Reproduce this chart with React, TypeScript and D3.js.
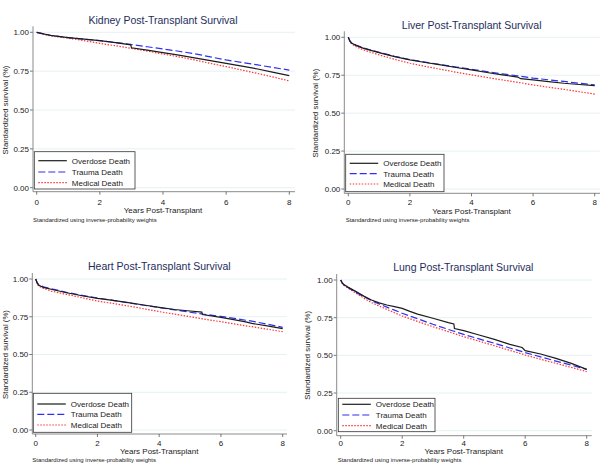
import React from "react";
import * as d3 from "d3";

const SERIES_NAMES = ["Overdose Death", "Trauma Death", "Medical Death"];
const Y_TICKS = [0, 0.25, 0.5, 0.75, 1];
const Y_TICK_LABELS = ["0.00", "0.25", "0.50", "0.75", "1.00"];
const X_TICKS = [0, 2, 4, 6, 8];
const X_TITLE = "Years Post-Transplant";
const Y_TITLE = "Standardized survival (%)";
const NOTE = "Standardized using inverse-probability weights";
const TITLES = [
  "Kidney Post-Transplant Survival",
  "Liver Post-Transplant Survival",
  "Heart Post-Transplant Survival",
  "Lung Post-Transplant Survival",
];

// Kidney
const KIDNEY_T = [0, 0.25, 0.5, 1, 1.5, 2, 2.5, 2.98, 3, 3.5, 4, 4.5, 5, 5.5, 6, 6.5, 7, 7.5, 8];
const KIDNEY_OD = [1.0, 0.988, 0.978, 0.966, 0.956, 0.946, 0.934, 0.919, 0.9, 0.885, 0.869, 0.853, 0.836, 0.818, 0.8, 0.782, 0.764, 0.742, 0.721];
const KIDNEY_TR = [1.0, 0.988, 0.978, 0.966, 0.956, 0.946, 0.934, 0.922, 0.921, 0.907, 0.893, 0.878, 0.862, 0.842, 0.822, 0.806, 0.79, 0.773, 0.757];
const KIDNEY_MD = [1.0, 0.985, 0.975, 0.962, 0.946, 0.929, 0.913, 0.897, 0.896, 0.879, 0.86, 0.842, 0.822, 0.8, 0.779, 0.757, 0.735, 0.712, 0.687];

// Liver
const LIVER_T = [0, 0.05, 0.1, 0.25, 0.5, 1, 1.5, 2, 2.5, 3, 3.5, 4, 4.5, 5, 5.5, 5.6, 6, 6.5, 7, 7.5, 8];
const LIVER_OD = [1.0, 0.975, 0.962, 0.947, 0.927, 0.899, 0.873, 0.851, 0.834, 0.818, 0.801, 0.785, 0.768, 0.752, 0.738, 0.727, 0.719, 0.708, 0.697, 0.689, 0.681];
const LIVER_TR = [1.0, 0.978, 0.965, 0.949, 0.929, 0.901, 0.875, 0.853, 0.836, 0.82, 0.804, 0.789, 0.774, 0.759, 0.746, 0.743, 0.731, 0.72, 0.709, 0.697, 0.686];
const LIVER_MD = [1.0, 0.972, 0.958, 0.938, 0.916, 0.884, 0.855, 0.829, 0.808, 0.789, 0.77, 0.752, 0.735, 0.719, 0.703, 0.7, 0.686, 0.671, 0.657, 0.641, 0.626];

// Heart
const HEART_T = [0, 0.05, 0.1, 0.25, 0.5, 1, 1.5, 2, 2.5, 3, 3.5, 4, 4.5, 5, 5.38, 5.4, 6, 6.5, 6.8, 7, 7.5, 8];
const HEART_OD = [1.0, 0.972, 0.958, 0.945, 0.932, 0.909, 0.889, 0.872, 0.858, 0.843, 0.828, 0.812, 0.798, 0.788, 0.781, 0.765, 0.746, 0.728, 0.716, 0.706, 0.689, 0.671];
const HEART_TR = [1.0, 0.975, 0.962, 0.948, 0.935, 0.912, 0.892, 0.874, 0.859, 0.842, 0.826, 0.811, 0.795, 0.78, 0.769, 0.768, 0.752, 0.737, 0.727, 0.721, 0.701, 0.68];
const HEART_MD = [1.0, 0.968, 0.952, 0.938, 0.92, 0.898, 0.876, 0.854, 0.838, 0.821, 0.803, 0.784, 0.767, 0.75, 0.737, 0.736, 0.717, 0.7, 0.69, 0.684, 0.668, 0.651];

// Lung
const LUNG_T = [0, 0.05, 0.1, 0.25, 0.5, 0.75, 1, 1.25, 1.5, 1.75, 2, 2.25, 2.5, 3, 3.5, 3.68, 3.7, 4, 4.5, 5, 5.5, 5.9, 6, 6.5, 7, 7.5, 8];
const LUNG_OD = [1.0, 0.98, 0.97, 0.951, 0.923, 0.893, 0.867, 0.848, 0.834, 0.823, 0.812, 0.792, 0.774, 0.746, 0.717, 0.708, 0.678, 0.664, 0.635, 0.606, 0.573, 0.552, 0.531, 0.509, 0.48, 0.447, 0.407];
const LUNG_TR = [1.0, 0.98, 0.968, 0.948, 0.918, 0.89, 0.863, 0.841, 0.82, 0.8, 0.779, 0.761, 0.743, 0.706, 0.672, 0.66, 0.659, 0.639, 0.609, 0.58, 0.549, 0.525, 0.518, 0.49, 0.462, 0.435, 0.407];
const LUNG_MD = [1.0, 0.978, 0.965, 0.944, 0.912, 0.88, 0.85, 0.827, 0.805, 0.783, 0.761, 0.743, 0.725, 0.69, 0.657, 0.645, 0.644, 0.624, 0.594, 0.564, 0.533, 0.509, 0.502, 0.474, 0.447, 0.42, 0.392];

const PANEL_DATA = [
  { t: KIDNEY_T, s: [KIDNEY_OD, KIDNEY_TR, KIDNEY_MD] },
  { t: LIVER_T, s: [LIVER_OD, LIVER_TR, LIVER_MD] },
  { t: HEART_T, s: [HEART_OD, HEART_TR, HEART_MD] },
  { t: LUNG_T, s: [LUNG_OD, LUNG_TR, LUNG_MD] },
];

// layout (pixel geometry per panel)
const LAYOUT = [
  { axisX: 33, x0: 36.7, x8: 289.3, xEnd: 295, y1: 32.3, y0: 187.7, base: 191.7, titleX: 163, titleY: 20, tickY: 201.7, xTitleY: 210, noteX: 33, noteY: 220, yTitleX: 5, leg: [34.3, 151.7, 100.7, 37.3], legRows: [160.7, 172, 182.7] },
  { axisX: 344.3, x0: 348.3, x8: 594.7, xEnd: 600, y1: 37.3, y0: 189, base: 193.3, titleX: 471.7, titleY: 25, tickY: 201.7, xTitleY: 210.7, noteX: 345.7, noteY: 220, yTitleX: 315, leg: [345.7, 154.3, 98.3, 37.4], legRows: [163.3, 173.7, 184] },
  { axisX: 32.3, x0: 35.7, x8: 282.7, xEnd: 287, y1: 279, y0: 430, base: 434, titleX: 159.3, titleY: 266, tickY: 443.3, xTitleY: 451, noteX: 32.3, noteY: 460, yTitleX: 5, leg: [33.3, 393.3, 98.4, 39], legRows: [404, 414.3, 425] },
  { axisX: 336.7, x0: 340.7, x8: 586.7, xEnd: 591.7, y1: 280, y0: 430.7, base: 435.7, titleX: 463.3, titleY: 267.3, tickY: 443.3, xTitleY: 451, noteX: 337.7, noteY: 460, yTitleX: 307.3, leg: [338.3, 398.3, 96.7, 33.4], legRows: [404.3, 415, 425.7] },
];

const STYLES = [
  { stroke: "#1c1c1c", dash: "none", width: 1.2 },
  { stroke: "#2f2ff5", dash: "7,3", width: 1.2 },
  { stroke: "#ff3535", dash: "1.5,1.5", width: 1.2 },
];

const FONT = "'Liberation Sans', Arial, sans-serif";

function Panel({ idx }: { idx: number }) {
  const L = LAYOUT[idx];
  const D = PANEL_DATA[idx];
  const x = d3.scaleLinear().domain([0, 8]).range([L.x0, L.x8]);
  const y = d3.scaleLinear().domain([0, 1]).range([L.y0, L.y1]);
  const line = d3
    .line<[number, number]>()
    .x((d) => x(d[0]))
    .y((d) => y(d[1]));
  const [lx, ly, lw, lh] = L.leg;
  const order = [2, 1, 0];
  return (
    <g>
      <text x={L.titleX} y={L.titleY + 3.7} textAnchor="middle" fontSize={10.5} fill="#1e2d5c" fontFamily={FONT}>
        {TITLES[idx]}
      </text>
      {Y_TICKS.map((v, i) => (
        <g key={"g" + i}>
          <line x1={L.axisX} x2={L.xEnd} y1={y(v)} y2={y(v)} stroke="#e6f0f2" strokeWidth={1} />
          <line x1={L.axisX - 3} x2={L.axisX} y1={y(v)} y2={y(v)} stroke="#555" strokeWidth={0.8} />
          <text x={L.axisX - 4} y={y(v) + 2.9} textAnchor="end" fontSize={8} fill="#222" fontFamily={FONT}>
            {Y_TICK_LABELS[i]}
          </text>
        </g>
      ))}
      <line x1={L.axisX} x2={L.axisX} y1={y(1) - 6} y2={L.base} stroke="#8a8a8a" strokeWidth={1} />
      <line x1={L.axisX} x2={L.xEnd} y1={L.base} y2={L.base} stroke="#8a8a8a" strokeWidth={1} />
      {X_TICKS.map((v) => (
        <g key={"x" + v}>
          <line x1={x(v)} x2={x(v)} y1={L.base} y2={L.base + 3} stroke="#555" strokeWidth={0.8} />
          <text x={x(v)} y={L.tickY + 2.9} textAnchor="middle" fontSize={8} fill="#222" fontFamily={FONT}>
            {v}
          </text>
        </g>
      ))}
      <text x={(L.x0 + L.x8) / 2} y={L.xTitleY + 2.9} textAnchor="middle" fontSize={8} fill="#222" fontFamily={FONT}>
        {X_TITLE}
      </text>
      <text x={L.noteX} y={L.noteY + 2.2} fontSize={6} fill="#222" fontFamily={FONT}>
        {NOTE}
      </text>
      <text
        transform={`translate(${L.yTitleX + 2.8},${(L.y0 + L.y1) / 2}) rotate(-90)`}
        textAnchor="middle"
        fontSize={7.8}
        fill="#222"
        fontFamily={FONT}
      >
        {Y_TITLE}
      </text>
      {order.map((si) => {
        const pts: [number, number][] = D.t.map((t, i) => [t, D.s[si][i]]);
        const st = STYLES[si];
        return (
          <path key={"s" + si} d={line(pts) || ""} fill="none" stroke={st.stroke} strokeWidth={st.width} strokeDasharray={st.dash} />
        );
      })}
      <rect x={lx} y={ly} width={lw} height={lh} fill="#fff" stroke="#333" strokeWidth={0.8} />
      {SERIES_NAMES.map((name, i) => {
        const st = STYLES[i];
        return (
          <g key={"l" + i}>
            <line x1={lx + 4} x2={lx + 32.5} y1={L.legRows[i]} y2={L.legRows[i]} stroke={st.stroke} strokeWidth={st.width} strokeDasharray={st.dash} />
            <text x={lx + 37.5} y={L.legRows[i] + 2.9} fontSize={8} fill="#222" fontFamily={FONT}>
              {name}
            </text>
          </g>
        );
      })}
    </g>
  );
}

export default function App() {
  return (
    <svg width={600} height={465} style={{ position: "absolute", left: 0, top: 0, background: "#fff" }}>
      <rect x={0} y={0} width={600} height={465} fill="#fff" />
      {[0, 1, 2, 3].map((i) => (
        <Panel key={i} idx={i} />
      ))}
    </svg>
  );
}
